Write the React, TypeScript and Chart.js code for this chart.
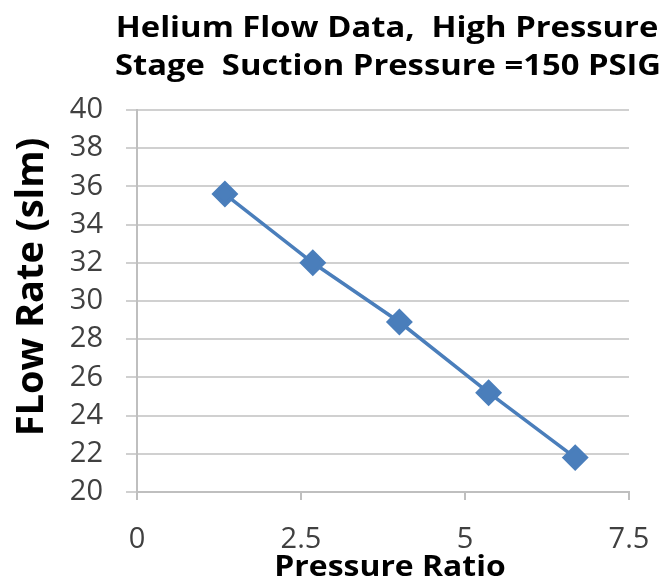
import React, { useEffect, useRef } from "react";
import { Chart, registerables } from "chart.js";

Chart.register(...registerables);

const titleLines = ["Helium Flow Data,  High Pressure", "Stage  Suction Pressure =150 PSIG"];
const xTitle = "Pressure Ratio";
const yTitle = "FLow Rate (slm)";
const pressureRatio = [1.34, 2.68, 4.0, 5.36, 6.68];
const flowRate = [35.6, 32.0, 28.9, 25.2, 21.8];
const xTicks = [0, 2.5, 5, 7.5];
const yMin = 20;
const yMax = 40;
const yStep = 2;

const FONT = "'Open Sans', 'DejaVu Sans', sans-serif";

function drawStretched(ctx: any, text: string, x: number, y: number, sx: number) {
  ctx.save();
  ctx.translate(x, y);
  ctx.scale(sx, 1);
  ctx.fillText(text, 0, 0);
  ctx.restore();
}

const titlePlugin = {
  id: "customTitles",
  afterDraw(chart: any) {
    const { ctx } = chart;
    ctx.save();
    ctx.fillStyle = "#000";
    ctx.textAlign = "center";
    ctx.textBaseline = "alphabetic";
    ctx.font = `bold 28px ${FONT}`;
    drawStretched(ctx, titleLines[0], 379, 29, 1.17);
    drawStretched(ctx, titleLines[1], 380, 67, 1.17);
    ctx.font = `bold 29px ${FONT}`;
    drawStretched(ctx, xTitle, 382, 568, 1.1);
    ctx.save();
    ctx.translate(35, 279);
    ctx.rotate(-Math.PI / 2);
    ctx.font = `bold 38px ${FONT}`;
    ctx.fillText(yTitle, 0, 0);
    ctx.restore();
    ctx.restore();
  },
};

export default function App() {
  const ref = useRef<HTMLCanvasElement>(null);
  useEffect(() => {
    if (!ref.current) return;
    const chart = new Chart(ref.current, {
      type: "scatter",
      data: {
        datasets: [
          {
            data: pressureRatio.map((x, i) => ({ x, y: flowRate[i] })),
            showLine: true,
            borderColor: "#4a7ebb",
            backgroundColor: "#4a7ebb",
            borderWidth: 3.5,
            pointStyle: "rectRot",
            pointRadius: 11,
            pointHoverRadius: 11,
          },
        ],
      },
      options: {
        animation: false,
        responsive: true,
        maintainAspectRatio: false,
        layout: { padding: { top: 102, right: 33, bottom: 0, left: 0 } },
        plugins: { legend: { display: false }, tooltip: { enabled: false }, title: { display: false } },
        scales: {
          x: {
            type: "linear",
            min: 0,
            max: 7.5,
            afterBuildTicks: (s: any) => {
              s.ticks = xTicks.map((v) => ({ value: v }));
            },
            afterFit: (s: any) => {
              s.height = 95;
              s.paddingLeft = 0;
              s.paddingRight = 0;
            },
            ticks: {
              font: { family: FONT, size: 29 },
              color: "#404040",
              padding: 22,
              maxRotation: 0,
              callback: (v: any) => String(v),
            },
            grid: {
              drawOnChartArea: false,
              drawTicks: true,
              tickLength: 8,
              color: "#bfbfbf",
              lineWidth: 2,
            },
            border: { display: true, color: "#bfbfbf", width: 2 },
            title: { display: false },
          },
          y: {
            min: yMin,
            max: yMax,
            afterFit: (s: any) => {
              s.width = 129;
            },
            ticks: {
              stepSize: yStep,
              font: { family: FONT, size: 29 },
              color: "#404040",
              padding: 23,
            },
            grid: {
              color: "#d0d0d0",
              lineWidth: 2,
              drawTicks: true,
              tickLength: 11,
            },
            border: { display: true, color: "#bfbfbf", width: 2 },
            title: { display: false },
          },
        },
      },
      plugins: [titlePlugin],
    });
    return () => chart.destroy();
  }, []);
  return (
    <div style={{ width: 654, height: 579, marginBottom: -8, position: "relative" }}>
      <canvas ref={ref} />
    </div>
  );
}
